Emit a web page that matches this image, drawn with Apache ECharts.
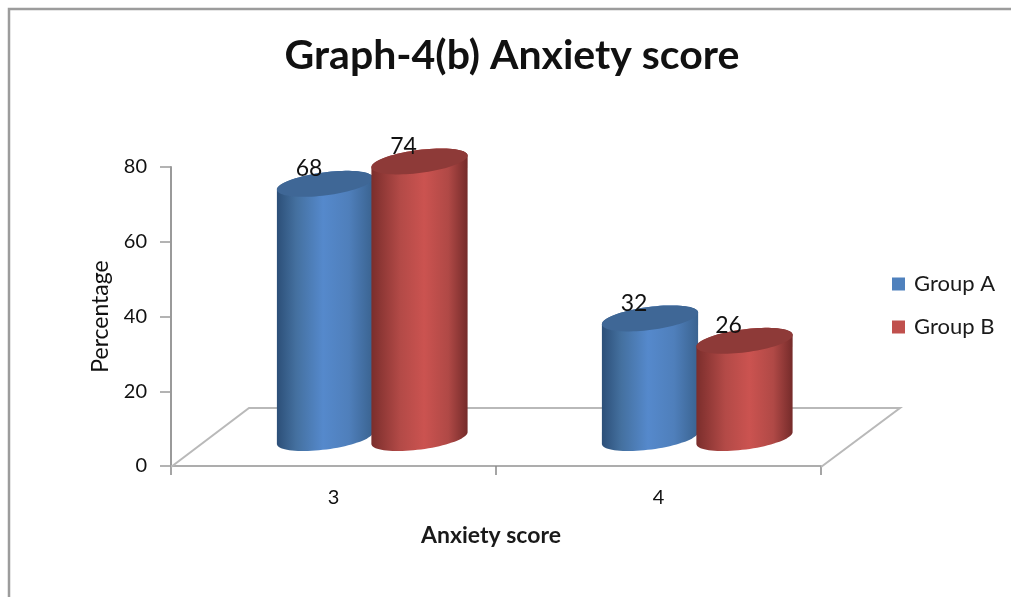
<!DOCTYPE html>
<html>
<head>
<meta charset="utf-8">
<style>html,body{margin:0;padding:0;background:#fff}#chart{width:1011px;height:597px}</style>
<script src="https://cdn.jsdelivr.net/npm/echarts@6/dist/echarts.min.js"></script>
</head>
<body>
<div id="chart"></div>
<script>
// Anxiety score by group
const categories = ['3', '4'];
const groupNames = ['Group A', 'Group B'];
const groupA = [68, 32];
const groupB = [74, 26];

const FONT = 'Lato, "Open Sans", sans-serif';
const TILT = -7.4 * Math.PI / 180;
const RX = 48.5, RY = 11.5;
const LIFT = 28;                 // pixels the bars sit back from the front floor edge
const DEPTH = [78, -59];         // floor depth offset in pixels

const blueSide = [[0, '#2c4f78'], [0.2, '#44709f'], [0.48, '#5589cc'], [0.75, '#4f7fbb'], [1, '#3a6390']];
const redSide = [[0, '#7b2e2c'], [0.3, '#b34a47'], [0.55, '#cb5350'], [0.8, '#b04946'], [1, '#752b2a']];

function ellipsePoint(cx, cy, t) {
  const x = RX * Math.cos(t), y = RY * Math.sin(t);
  return [cx + x * Math.cos(TILT) - y * Math.sin(TILT), cy + x * Math.sin(TILT) + y * Math.cos(TILT)];
}
function arc(cx, cy, from, to, steps) {
  const pts = [];
  for (let i = 0; i <= steps; i++) pts.push(ellipsePoint(cx, cy, from + (to - from) * i / steps));
  return pts;
}

function cylinder(dx, stops, capColor) {
  return function (params, api) {
    const cat = api.value(0), val = api.value(1);
    const base = api.coord([cat, 0]);
    const top = api.coord([cat, val]);
    const cx = base[0] + dx, by = base[1] - LIFT, ty = top[1] - LIFT;
    const body = arc(cx, by, 0, Math.PI, 40).concat(arc(cx, ty, Math.PI, 2 * Math.PI, 40));
    const cap = arc(cx, ty, 0, 2 * Math.PI, 80);
    return {
      type: 'group',
      children: [
        { type: 'polygon', shape: { points: body },
          style: { fill: new echarts.graphic.LinearGradient(0, 0, 1, 0, stops.map(s => ({ offset: s[0], color: s[1] }))) } },
        { type: 'polygon', shape: { points: cap }, style: { fill: capColor } },
        { type: 'text', z2: 10, style: { text: String(val), x: cx - 16, y: ty - 15, align: 'center', verticalAlign: 'middle',
            font: '23px ' + FONT, fill: '#111' } }
      ]
    };
  };
}

function floor(params, api) {
  const frontL = api.coord([0, 0]), frontR = api.coord([1, 0]);
  const halfBand = api.size([1, 0])[0] / 2;
  const y = frontL[1] + 1;
  const a = [frontL[0] - halfBand, y], b = [frontR[0] + halfBand, y];
  const c = [b[0] + DEPTH[0] + 1, y + DEPTH[1]], d = [a[0] + DEPTH[0], y + DEPTH[1]];
  return {
    type: 'polyline',
    shape: { points: [a, d, c, b] },
    style: { stroke: '#b9b9b9', lineWidth: 2, fill: null }
  };
}

const chart = echarts.init(document.getElementById('chart'), null, { renderer: 'canvas' });
chart.setOption({
  animation: false,
  backgroundColor: '#fff',
  title: {
    text: 'Graph-4(b) Anxiety score', left: 507, top: 30, textAlign: 'center',
    textStyle: { fontFamily: FONT, fontSize: 41, fontWeight: 'bold', color: '#111' }
  },
  legend: {
    data: groupNames, orient: 'vertical', left: 887, top: 268, itemWidth: 13, itemHeight: 13, itemGap: 21, icon: 'rect',
    selectedMode: false,
    textStyle: { fontFamily: FONT, fontSize: 22, color: '#1a1a1a', padding: [0, 0, 0, 4] }
  },
  grid: { left: 171, right: 190, top: 167, height: 299 },
  xAxis: {
    type: 'category', data: categories, offset: 1,
    name: 'Anxiety score', nameLocation: 'middle', nameGap: 57,
    nameTextStyle: { fontFamily: FONT, fontSize: 23, fontWeight: 'bold', color: '#1a1a1a', padding: [0, 10, 0, 0] },
    axisLine: { lineStyle: { color: '#adadad', width: 2 } },
    axisTick: { show: true, length: 9, lineStyle: { color: '#888', width: 1.5 } },
    axisLabel: { fontFamily: FONT, fontSize: 20, color: '#111', margin: 21 }
  },
  yAxis: {
    type: 'value', min: 0, max: 80, interval: 20,
    name: 'Percentage', nameLocation: 'middle', nameGap: 59, nameRotate: 90,
    nameTextStyle: { fontFamily: FONT, fontSize: 23, color: '#111' },
    splitLine: { show: false },
    axisLine: { show: true, lineStyle: { color: '#9a9a9a', width: 2 } },
    axisTick: { show: true, length: 11, lineStyle: { color: '#9a9a9a', width: 1.5 } },
    axisLabel: { fontFamily: FONT, fontSize: 20, color: '#111', margin: 24 }
  },
  graphic: [{
    type: 'rect', silent: true, z: -1,
    shape: { x: 9, y: 9, width: 1100, height: 700 },
    style: { fill: null, stroke: '#9c9c9c', lineWidth: 2.5 }
  }],
  series: [
    { type: 'custom', name: 'floor', z: 1, silent: true, clip: false, data: [[0, 0]], encode: { x: 0, y: 1 }, renderItem: floor },
    { type: 'custom', name: groupNames[0], z: 2, silent: true, clip: false, itemStyle: { color: '#4f81bd' },
      data: groupA.map((v, i) => [i, v]), encode: { x: 0, y: 1 }, renderItem: cylinder(-8.5, blueSide, '#3f6796') },
    { type: 'custom', name: groupNames[1], z: 3, silent: true, clip: false, itemStyle: { color: '#c0504d' },
      data: groupB.map((v, i) => [i, v]), encode: { x: 0, y: 1 }, renderItem: cylinder(86, redSide, '#8e3a38') }
  ]
});
</script>
</body>
</html>
